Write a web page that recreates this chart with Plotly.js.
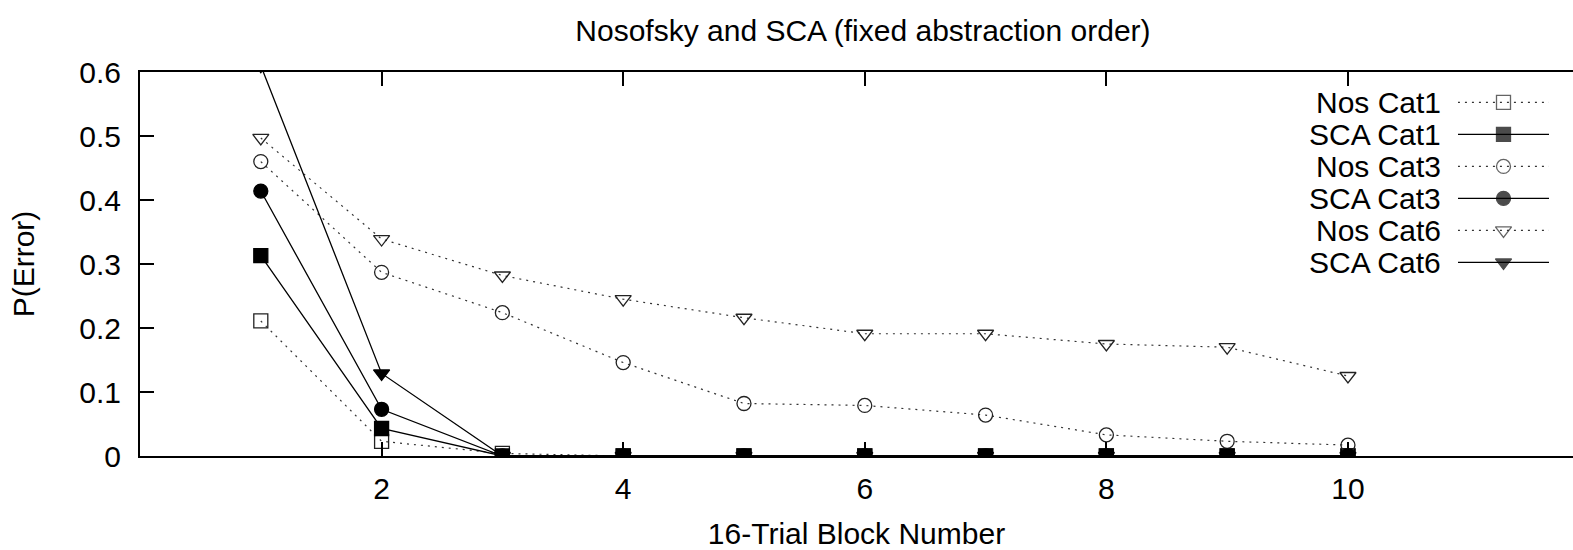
<!DOCTYPE html>
<html>
<head>
<meta charset="utf-8">
<script src="https://cdn.plot.ly/plotly-3.0.1.min.js"></script>
<style>html,body{margin:0;padding:0;background:#fff;}#chart{width:1573px;height:550px;}</style>
</head>
<body>
<div id="chart"></div>
<script>
var blocks = [1, 2, 3, 4, 5, 6, 7, 8, 9, 10];
var nosCat1 = [0.211, 0.023, 0.004, 0, 0, 0, 0, 0, 0, 0];
var scaCat1 = [0.313, 0.043, 0, 0, 0, 0, 0, 0, 0, 0];
var nosCat3 = [0.460, 0.287, 0.224, 0.146, 0.082, 0.079, 0.064, 0.033, 0.023, 0.017];
var scaCat3 = [0.414, 0.073, 0, 0, 0, 0, 0, 0, 0, 0];
var nosCat6 = [0.497, 0.339, 0.282, 0.245, 0.216, 0.191, 0.191, 0.175, 0.170, 0.125];
var scaCat6 = [0.610, 0.129, 0, 0, 0, 0, 0, 0, 0, 0];
var seriesNames = ['Nos Cat1', 'SCA Cat1', 'Nos Cat3', 'SCA Cat3', 'Nos Cat6', 'SCA Cat6'];
var yTickVals = [0, 0.1, 0.2, 0.3, 0.4, 0.5, 0.6];
var yTickText = ['0', '0.1', '0.2', '0.3', '0.4', '0.5', '0.6'];
var xTickVals = [2, 4, 6, 8, 10];
var xTickText = ['2', '4', '6', '8', '10'];

var FONT = 'Liberation Sans, Arial, Helvetica, sans-serif';
var series = [nosCat1, scaCat1, nosCat3, scaCat3, nosCat6, scaCat6];
var styles = [
  {sym: 'square-open', dash: '2px,5px', color: '#333', mcolor: '#222', w: 1.2},
  {sym: 'square', dash: 'solid', color: '#000', mcolor: '#000', w: 1.3},
  {sym: 'circle-open', dash: '2px,5px', color: '#333', mcolor: '#222', w: 1.2},
  {sym: 'circle', dash: 'solid', color: '#000', mcolor: '#000', w: 1.3},
  {sym: 'triangle-down-open', dash: '2px,5px', color: '#333', mcolor: '#222', w: 1.2},
  {sym: 'triangle-down', dash: 'solid', color: '#000', mcolor: '#000', w: 1.3}
];

var traces = [];
series.forEach(function (vals, i) {
  var s = styles[i];
  traces.push({
    x: blocks, y: vals, name: seriesNames[i], type: 'scatter', mode: 'lines+markers',
    line: {color: s.color, width: s.w, dash: s.dash},
    marker: {symbol: s.sym, size: 14, color: s.mcolor, line: {color: s.mcolor, width: 1.3}},
    showlegend: false, cliponaxis: true
  });
});

// gnuplot-style key: text right-aligned, sample to the right
var annotations = [];
seriesNames.forEach(function (nm, i) {
  var s = styles[i];
  var row = i + 0.95;
  traces.push({
    x: [0, 0.5, 1], y: [row, row, row], xaxis: 'x2', yaxis: 'y2', type: 'scatter',
    mode: 'lines+markers', hoverinfo: 'skip', showlegend: false,
    line: {color: s.color, width: s.w, dash: s.dash},
    marker: {symbol: s.sym, size: [0, 14, 0], color: s.mcolor, line: {color: s.mcolor, width: 1.3}}
  });
  annotations.push({
    xref: 'paper', yref: 'y2', x: 0.9095, y: row, xanchor: 'right', yanchor: 'middle',
    text: nm, showarrow: false, font: {family: FONT, size: 30, color: '#000'}
  });
});

var layout = {
  width: 1573, height: 550,
  margin: {l: 140, r: 0, t: 72, b: 94},
  paper_bgcolor: '#fff', plot_bgcolor: '#fff',
  font: {family: FONT, size: 30, color: '#000'},
  title: {text: 'Nosofsky and SCA (fixed abstraction order)', xref: 'paper', x: 0.5045,
          xanchor: 'center', yref: 'container', y: 0.944, yanchor: 'middle',
          font: {family: FONT, size: 30, color: '#000'}},
  xaxis: {
    range: [0, 11.863], showgrid: false, zeroline: false,
    showline: true, mirror: 'ticks', linecolor: '#000', linewidth: 2,
    ticks: 'inside', ticklen: 14, tickwidth: 2, tickcolor: '#000',
    tickvals: xTickVals, ticktext: xTickText, ticklabelstandoff: 5,
    tickfont: {family: FONT, size: 30},
    title: {text: '16-Trial Block Number', standoff: 20, font: {family: FONT, size: 30}}
  },
  yaxis: {
    range: [0, 0.6], showgrid: false, zeroline: false,
    showline: true, mirror: false, linecolor: '#000', linewidth: 2,
    ticks: 'inside', ticklen: 14, tickwidth: 2, tickcolor: '#000',
    tickvals: yTickVals, ticktext: yTickText, ticklabelstandoff: 11,
    tickfont: {family: FONT, size: 30},
    title: {text: 'P(Error)', standoff: 36, font: {family: FONT, size: 30}}
  },
  xaxis2: {domain: [0.9197, 0.9833], range: [0, 1], visible: false, fixedrange: true, anchor: 'y2'},
  yaxis2: {domain: [0, 1], range: [12, 0], visible: false, fixedrange: true, anchor: 'x2'},
  annotations: annotations,
  showlegend: false
};

Plotly.newPlot('chart', traces, layout, {staticPlot: true, displayModeBar: false});
</script>
</body>
</html>
